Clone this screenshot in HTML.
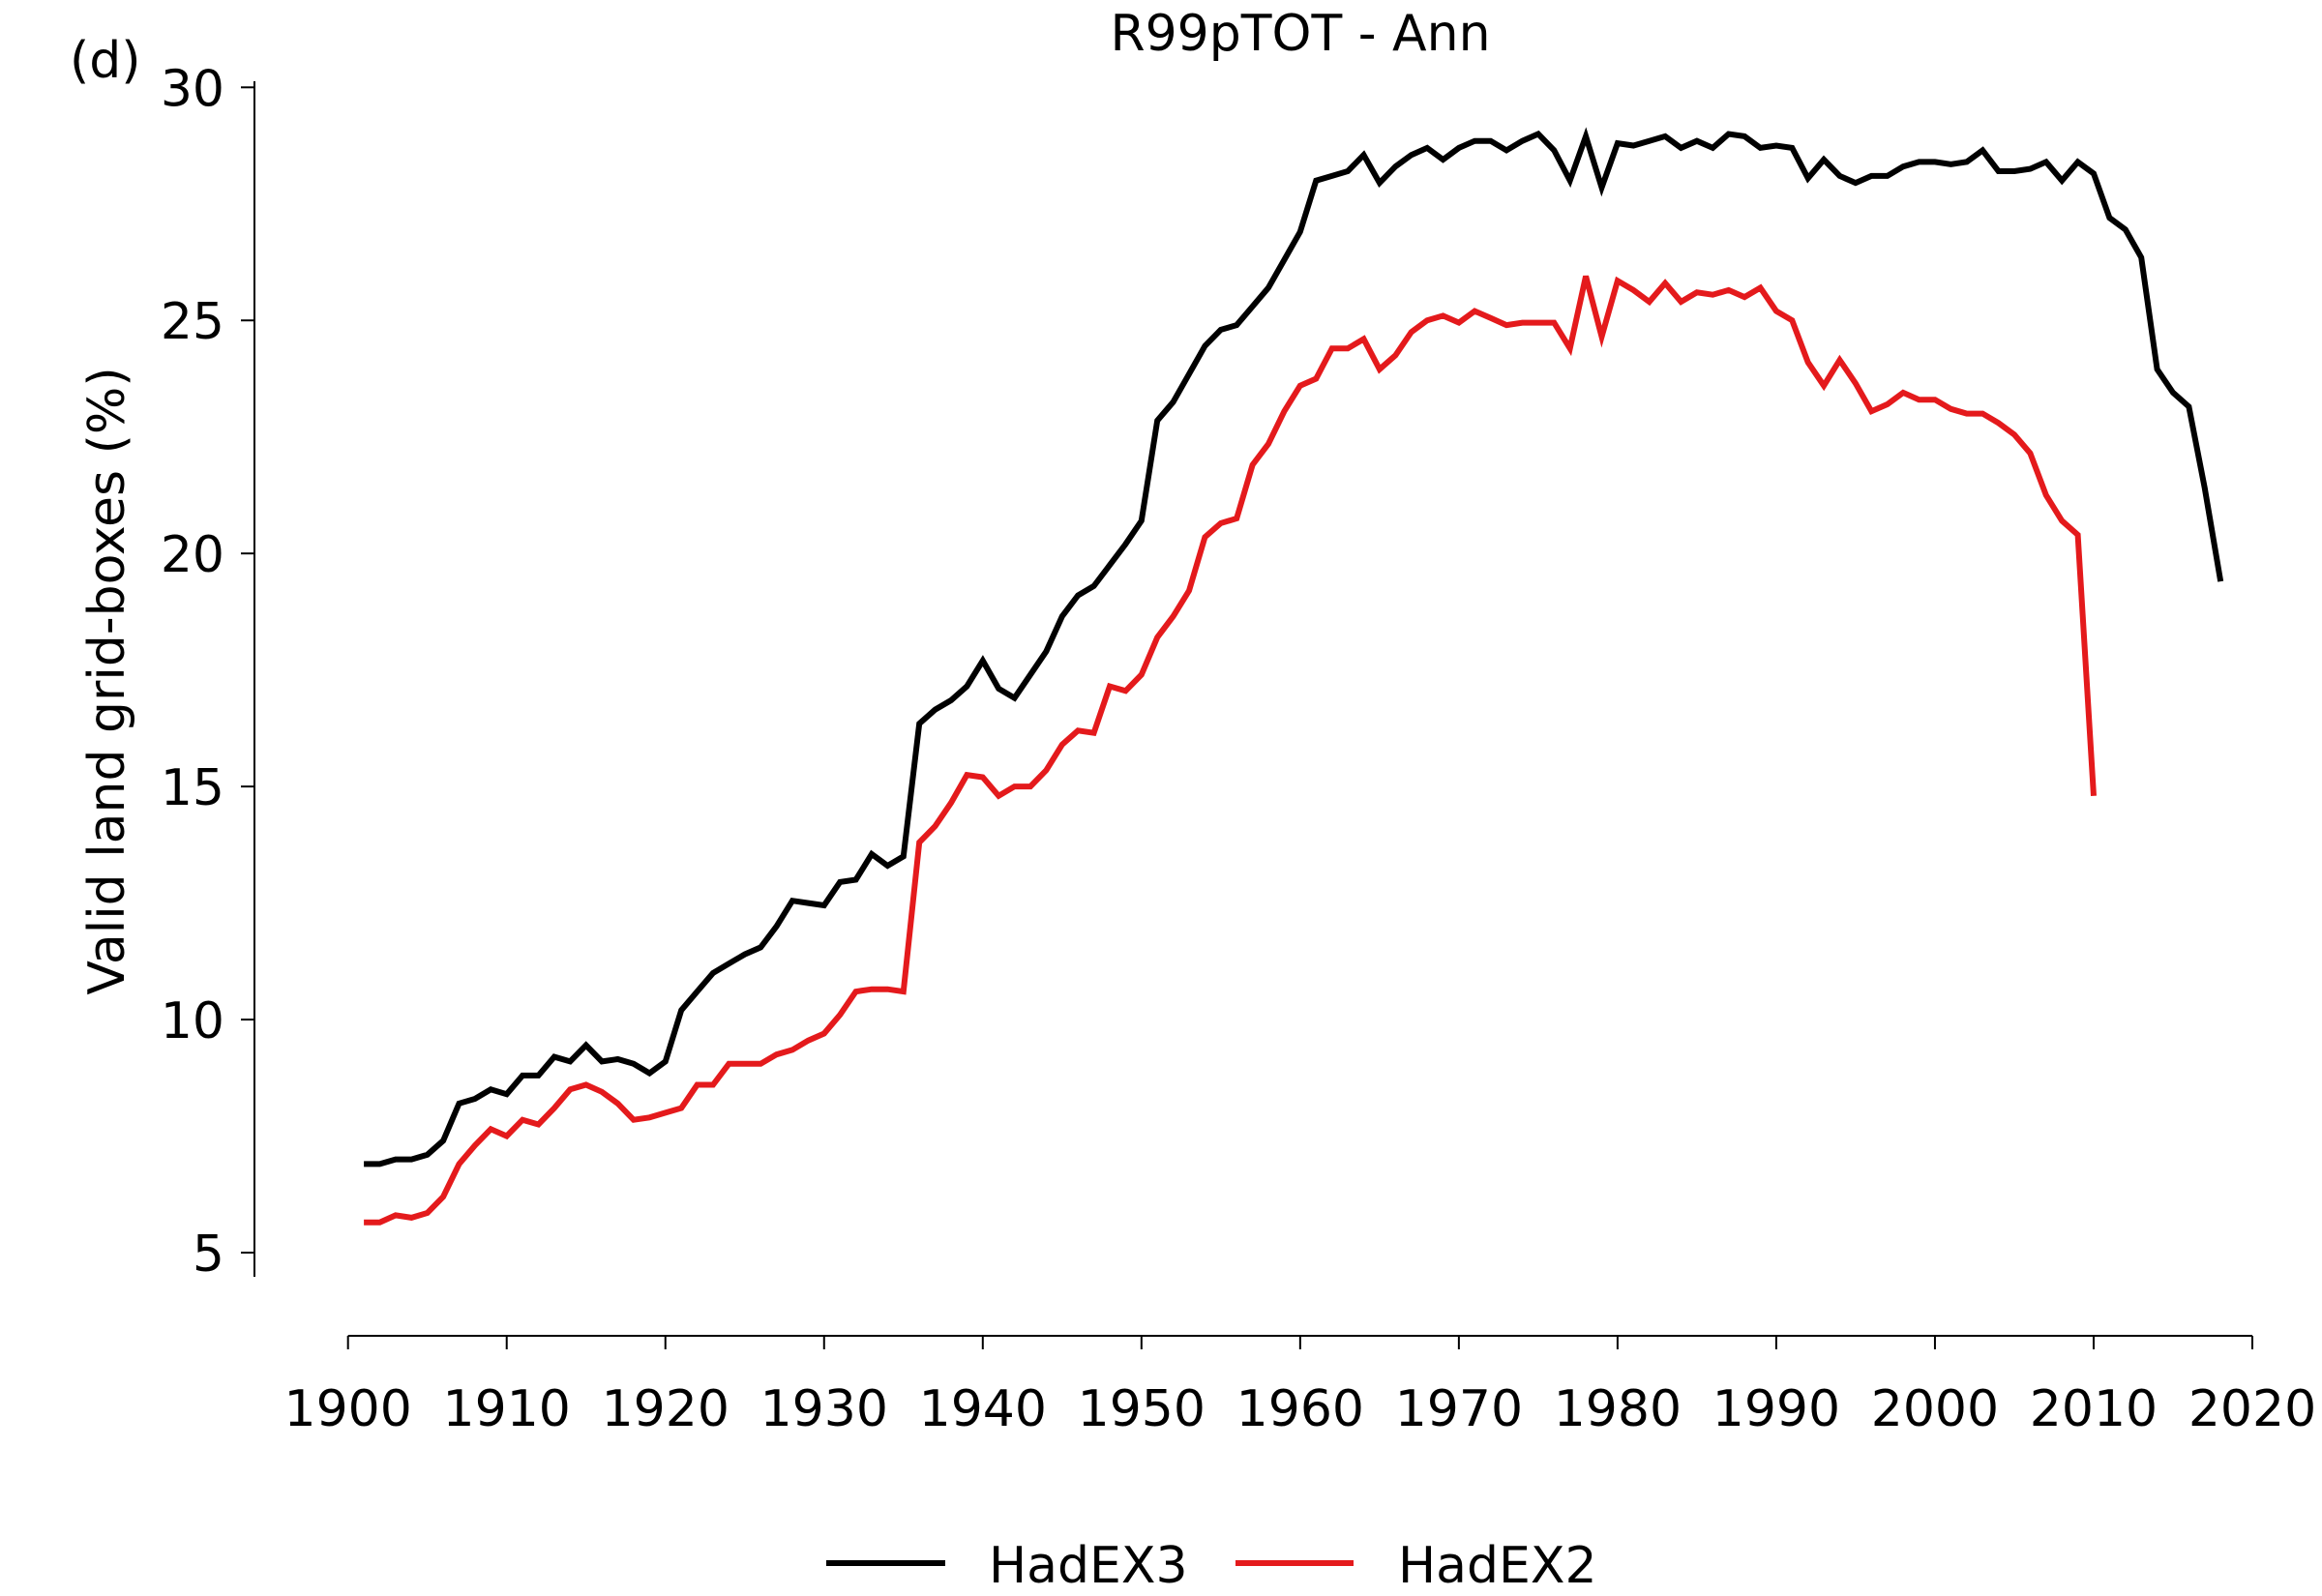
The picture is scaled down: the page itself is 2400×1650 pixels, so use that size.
<!DOCTYPE html>
<html><head><meta charset="utf-8"><style>
html,body{margin:0;padding:0;background:#fff}
svg{display:block;font-family:"DejaVu Sans","Liberation Sans",sans-serif}
</style></head><body>
<svg id="chart" width="2400" height="1650" viewBox="0 0 2400 1650">
<text x="1344" y="52" font-size="52" text-anchor="middle">R99pTOT - Ann</text>
<text x="72" y="80" font-size="52">(d)</text>
<text transform="translate(128,704) rotate(-90)" font-size="52" text-anchor="middle">Valid land grid-boxes (%)</text>
<g id="axes"></g>
<g id="series"></g>
<g>
<line x1="854" y1="1616" x2="977" y2="1616" stroke="#000" stroke-width="6"/>
<text x="1022" y="1636" font-size="52">HadEX3</text>
<line x1="1277" y1="1616" x2="1399" y2="1616" stroke="#e41a1c" stroke-width="6"/>
<text x="1445" y="1636" font-size="52">HadEX2</text>
</g>
</svg>
<script>
const xTicks=[1900,1910,1920,1930,1940,1950,1960,1970,1980,1990,2000,2010,2020];
const yTicks=[5,10,15,20,25,30];
const hadex3Start=1901;
const hadex3=[6.9,6.9,7.0,7.0,7.1,7.4,8.2,8.3,8.5,8.4,8.8,8.8,9.2,9.1,9.45,9.1,9.15,9.05,8.85,9.1,
10.2,10.6,11.0,11.2,11.4,11.55,12.0,12.55,12.5,12.45,12.95,13.0,13.55,13.3,13.5,16.35,16.65,16.85,17.15,17.7,
17.1,16.9,17.4,17.9,18.65,19.1,19.3,19.75,20.2,20.7,22.85,23.25,23.85,24.45,24.8,24.9,25.3,25.7,26.3,26.9,
28.0,28.1,28.2,28.55,27.95,28.3,28.55,28.7,28.45,28.7,28.85,28.85,28.65,28.85,29.0,28.65,28.0,28.95,27.85,28.8,
28.75,28.85,28.95,28.7,28.85,28.7,29.0,28.95,28.7,28.75,28.7,28.05,28.45,28.1,27.95,28.1,28.1,28.3,28.4,28.4,
28.35,28.4,28.65,28.2,28.2,28.25,28.4,28.0,28.4,28.15,27.2,26.95,26.35,23.95,23.45,23.15,21.4,19.4];
const hadex2Start=1901;
const hadex2=[5.65,5.65,5.8,5.75,5.85,6.2,6.9,7.3,7.65,7.5,7.85,7.75,8.1,8.5,8.6,8.45,8.2,7.85,7.9,8.0,
8.1,8.6,8.6,9.05,9.05,9.05,9.25,9.35,9.55,9.7,10.1,10.6,10.65,10.65,10.6,13.8,14.15,14.65,15.25,15.2,
14.8,15.0,15.0,15.35,15.9,16.2,16.15,17.15,17.05,17.4,18.2,18.65,19.2,20.35,20.65,20.75,21.9,22.35,23.05,23.6,
23.75,24.4,24.4,24.6,23.95,24.25,24.75,25.0,25.1,24.95,25.2,25.05,24.9,24.95,24.95,24.95,24.4,25.95,24.65,25.85,
25.65,25.4,25.8,25.4,25.6,25.55,25.65,25.5,25.7,25.2,25.0,24.1,23.6,24.15,23.65,23.05,23.2,23.45,23.3,23.3,
23.1,23.0,23.0,22.8,22.55,22.15,21.25,20.7,20.4,14.8];

const NS='http://www.w3.org/2000/svg';
const X0=359.7,X1=2328,Y5=1295,Y30=90.3;
function xs(v){return X0+(v-1900)*(X1-X0)/120;}
function ys(v){return Y5-(v-5)*(Y5-Y30)/25;}
function mk(tag,attrs,parent){const e=document.createElementNS(NS,tag);for(const k in attrs)e.setAttribute(k,attrs[k]);parent.appendChild(e);return e;}
const axes=document.getElementById('axes');
const ys1=mk('line',{x1:263,y1:84,x2:263,y2:1320,stroke:'#000','stroke-width':2},axes);


const xs1=mk('line',{x1:xs(1900),y1:1381,x2:xs(2020),y2:1381,stroke:'#000','stroke-width':2},axes);


yTicks.forEach(t=>{
  const tk=mk('line',{x1:249,y1:ys(t),x2:263,y2:ys(t),stroke:'#000','stroke-width':2},axes);
  
  
  const lb=mk('text',{x:232,y:ys(t)+19,'font-size':52,'text-anchor':'end'},axes);
  lb.textContent=t;
  
  
});
xTicks.forEach(t=>{
  const tk=mk('line',{x1:xs(t),y1:1381,x2:xs(t),y2:1395,stroke:'#000','stroke-width':2},axes);
  
  
  const lb=mk('text',{x:xs(t),y:1474,'font-size':52,'text-anchor':'middle'},axes);
  lb.textContent=t;
  
  
});
const ser=document.getElementById('series');
function line(data,start,color,name){
  const pts=data.map((v,i)=>xs(start+i).toFixed(1)+','+ys(v).toFixed(1)).join(' ');
  const p=mk('polyline',{points:pts,fill:'none',stroke:color,'stroke-width':6,'stroke-linejoin':'miter'},ser);
  
  
}
line(hadex2,hadex2Start,'#e41a1c','hadex2-line');
line(hadex3,hadex3Start,'#000','hadex3-line');
</script>
</body></html>
